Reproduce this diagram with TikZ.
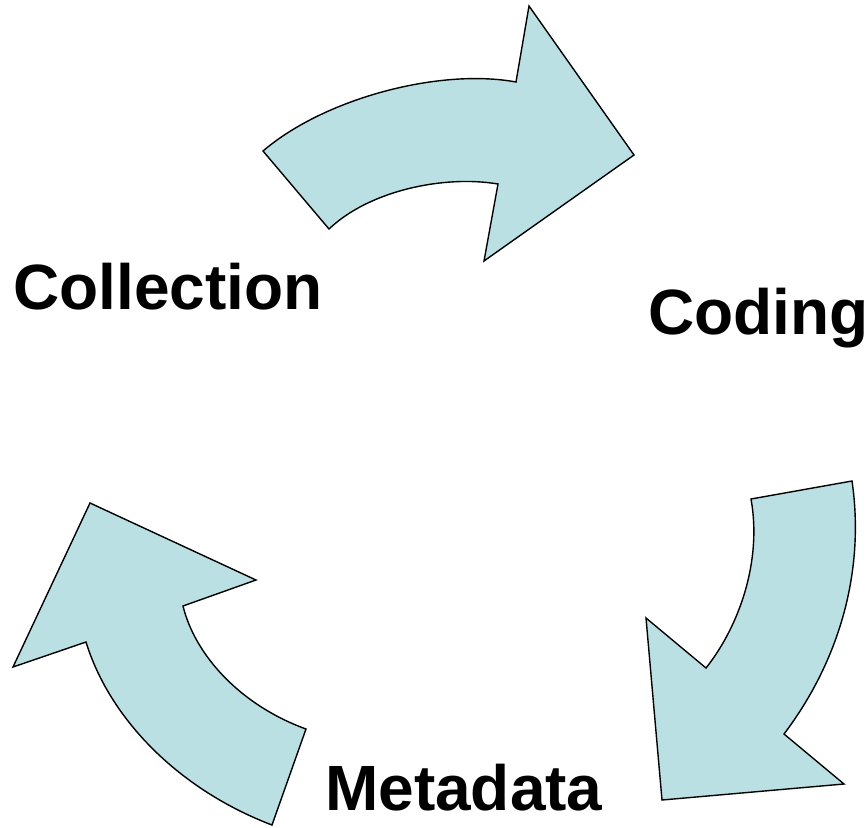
\documentclass[tikz,border=0pt]{standalone}
\usepackage{fontspec}
\setmainfont{Liberation Sans}
\usepackage{tikz}
\usetikzlibrary{positioning}
\definecolor{arrowfill}{RGB}{186,224,227}

\tikzset{
  cyclearrow/.style={draw=black, line width=1.4pt, line join=miter, fill=arrowfill},
  steplabel/.style={inner sep=0pt, anchor=base west, font=\fontsize{64}{64}\selectfont\bfseries}
}

\begin{document}
\begin{tikzpicture}[x=1pt, y=-1pt]
    \useasboundingbox (0,0) rectangle (867,827);

    % stage names
    \node[steplabel] (collection) at (13,309) {Collection};
    \node[steplabel] (coding) at (648,334) {Coding};
    \node[steplabel] (metadata) at (325,810) {Metadata};

    % collection -> coding
    \draw[cyclearrow] (263,151) .. controls (325,98) and (440,68) .. (516,82)
        -- (529,6) -- (634,155) -- (484,261) -- (498,184)
        .. controls (445,175) and (370,190) .. (329,229) -- cycle;

    % coding -> metadata
    \draw[cyclearrow] (852,481) .. controls (865,570) and (840,660) .. (784,734)
        -- (844,784) -- (662,800) -- (646,618) -- (706,668)
        .. controls (740,625) and (762,560) .. (751,499) -- cycle;

    % metadata -> collection
    \draw[cyclearrow] (272,825) .. controls (180,790) and (110,720) .. (86,642)
        -- (13,667) -- (90,503) -- (256,580) -- (183,606)
        .. controls (195,655) and (240,705) .. (306,729) -- cycle;
\end{tikzpicture}
\end{document}
